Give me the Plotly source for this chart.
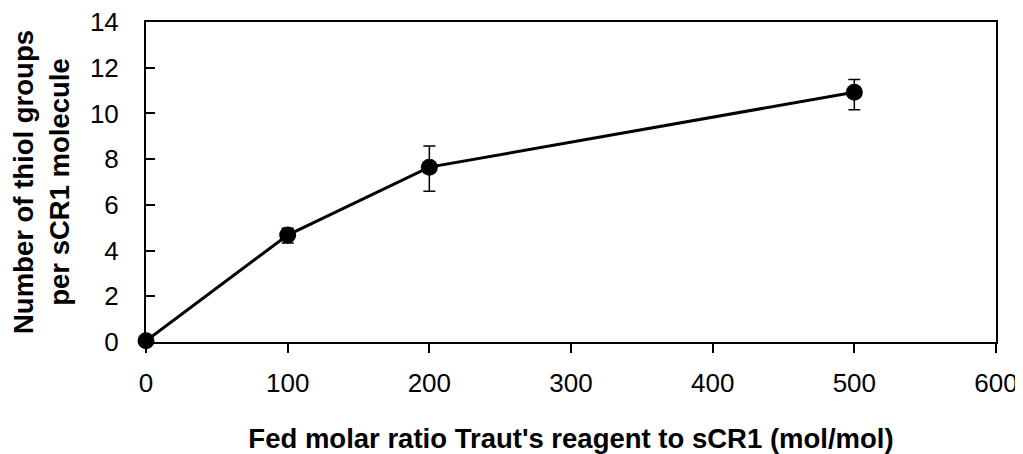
import plotly.graph_objects as go

ratio = [0, 100, 200, 500]
thiols = [0.05, 4.68, 7.65, 10.93]
err_plus = [0.1, 0.3, 0.93, 0.55]
err_minus = [0.1, 0.35, 1.05, 0.77]

x_ticks = [0, 100, 200, 300, 400, 500, 600]
y_ticks = [0, 2, 4, 6, 8, 10, 12, 14]

fig = go.Figure(go.Scatter(
    x=ratio, y=thiols, mode="lines+markers",
    line=dict(color="black", width=3),
    marker=dict(color="black", size=17),
    error_y=dict(type="data", symmetric=False, array=err_plus, arrayminus=err_minus,
                 color="black", thickness=1.5, width=6),
    cliponaxis=False,
))

# page body has an 8px default margin; offsets compensate for it
fig.update_layout(
    width=1023, height=446,
    margin=dict(l=138, r=35, t=14, b=112, autoexpand=False),
    plot_bgcolor="white", paper_bgcolor="white",
    font=dict(family="Liberation Sans, Arial", size=26, color="black"),
    showlegend=False,
)
fig.update_xaxes(
    range=[0, 600], tickvals=x_ticks, showgrid=False, zeroline=False,
    showline=True, linecolor="black", linewidth=2, mirror=True, automargin=False,
    ticks="outside", ticklen=9, tickwidth=2, tickcolor="black",
    tickfont=dict(size=26), ticklabelstandoff=8, ticklabeloverflow="allow",
    title=dict(text="<b>Fed molar ratio Traut's reagent to sCR1 (mol/mol)</b>",
               font=dict(size=27.5), standoff=37),
)
fig.update_yaxes(
    range=[0, 14], tickvals=y_ticks, showgrid=False, zeroline=False,
    showline=True, linecolor="black", linewidth=2, mirror=True, automargin=False,
    ticks="inside", ticklen=9, tickwidth=2, tickcolor="black",
    tickfont=dict(size=26), ticklabelstandoff=20, ticklabeloverflow="allow",
    title=dict(text="<b>Number of thiol groups<br>per sCR1 molecule</b>",
               font=dict(size=27.5), standoff=20),
)

fig.write_html("out.html")
